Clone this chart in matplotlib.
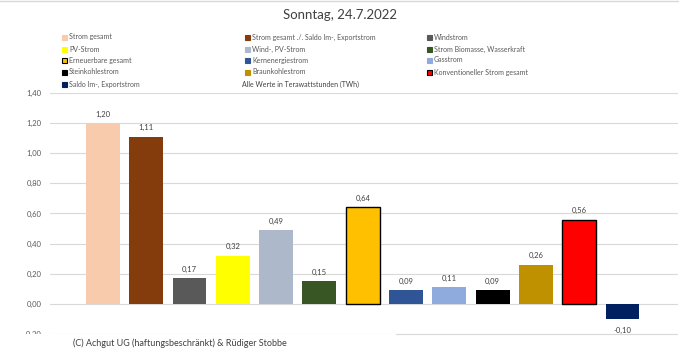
import numpy as np
import matplotlib
matplotlib.use('Agg')
import matplotlib.pyplot as plt
from matplotlib.patches import Rectangle

plt.rcParams['font.family'] = ['Lato', 'DejaVu Sans']

categories = ['Strom gesamt', 'Strom gesamt ./. Saldo Im-, Exportstrom', 'Windstrom',
              'PV-Strom', 'Wind-, PV-Strom', 'Strom Biomasse, Wasserkraft',
              'Erneuerbare gesamt', 'Kernenergiestrom', 'Gasstrom',
              'Steinkohlestrom', 'Braunkohlestrom', 'Konventioneller Strom gesamt',
              'Saldo Im-, Exportstrom']
values = [1.20, 1.11, 0.17, 0.32, 0.49, 0.15, 0.64, 0.09, 0.11, 0.09, 0.26, 0.56, -0.10]
colors = ['#F8CBAD', '#843C0C', '#595959', '#FFFF00', '#ADB9CA', '#375623',
          '#FFC000', '#2F5597', '#8FAADC', '#000000', '#BF9000', '#FF0000', '#002060']
edged = ['Erneuerbare gesamt', 'Konventioneller Strom gesamt']
yticks = [-0.2, 0.0, 0.2, 0.4, 0.6, 0.8, 1.0, 1.2, 1.4]

fig = plt.figure(figsize=(6.79, 3.56), dpi=100)
ax = fig.add_axes([50/679, 1-336/356, 628/679, 243/356])

x = np.arange(len(values))
for i, (c, v, col) in enumerate(zip(categories, values, colors)):
    if c in edged:
        ax.bar(i, v, width=0.78, color=col, edgecolor='black', linewidth=1.0, zorder=3)
    else:
        ax.bar(i, v, width=0.78, color=col, zorder=3)
    lbl = '{:.2f}'.format(v).replace('.', ',')
    if v >= 0:
        ax.annotate(lbl, (i, v), xytext=(0, 4), textcoords='offset points',
                    ha='center', va='bottom', fontsize=5.5, color='#404040')
    else:
        ax.annotate(lbl, (i, v), xytext=(0, -6), textcoords='offset points',
                    ha='center', va='top', fontsize=5.5, color='#404040')

ax.set_xlim(-1.22, 13.28)
ax.set_ylim(-0.2133, 1.4)
ax.set_yticks(yticks)
ax.set_yticklabels(['{:.2f}'.format(t).replace('.', ',') for t in yticks],
                   fontsize=5.5, color='#595959')
ax.set_xticks([])
ax.tick_params(axis='y', length=0, pad=6)
for s in ax.spines.values():
    s.set_visible(False)
ax.grid(axis='y', color='#D9D9D9', linewidth=0.8, zorder=0)
ax.set_axisbelow(True)

fig.text(340/679, 1-15/356, 'Sonntag, 24.7.2022', ha='center', va='center',
         fontsize=9.5, color='#404040')

# legend, three columns
col_x = [62, 245, 427]
row_y = [37, 49, 60, 72, 84]
for k, (c, col) in enumerate(zip(categories, colors)):
    r, cc = divmod(k, 3)
    px, py = col_x[cc], row_y[r]
    ec = 'black' if c in edged else col
    fig.patches.append(Rectangle((px/679, 1-(py+2.5)/356), 5/679, 5/356,
                                 facecolor=col, edgecolor=ec, linewidth=0.8,
                                 transform=fig.transFigure, figure=fig))
    fig.text((px+7)/679, 1-py/356, c, ha='left', va='center', fontsize=5,
             color='#595959')
fig.text(242/679, 1-84/356, 'Alle Werte in Terawattstunden (TWh)', ha='left',
         va='center', fontsize=5, color='#404040')

# copyright box covering lower left
fig.patches.append(Rectangle((0, 0), 396/679, 1-333.5/356, facecolor='white',
                             edgecolor='none', transform=fig.transFigure,
                             figure=fig, zorder=5))
fig.text(180/679, 1-343/356, '(C) Achgut UG (haftungsbeschränkt) & Rüdiger Stobbe',
         ha='center', va='center', fontsize=6.5, color='#404040', zorder=6)

fig.add_artist(plt.Line2D([0, 1], [0.998, 0.998], color='#D9D9D9', linewidth=1,
                          transform=fig.transFigure))

fig.savefig('out.png', dpi=100)
